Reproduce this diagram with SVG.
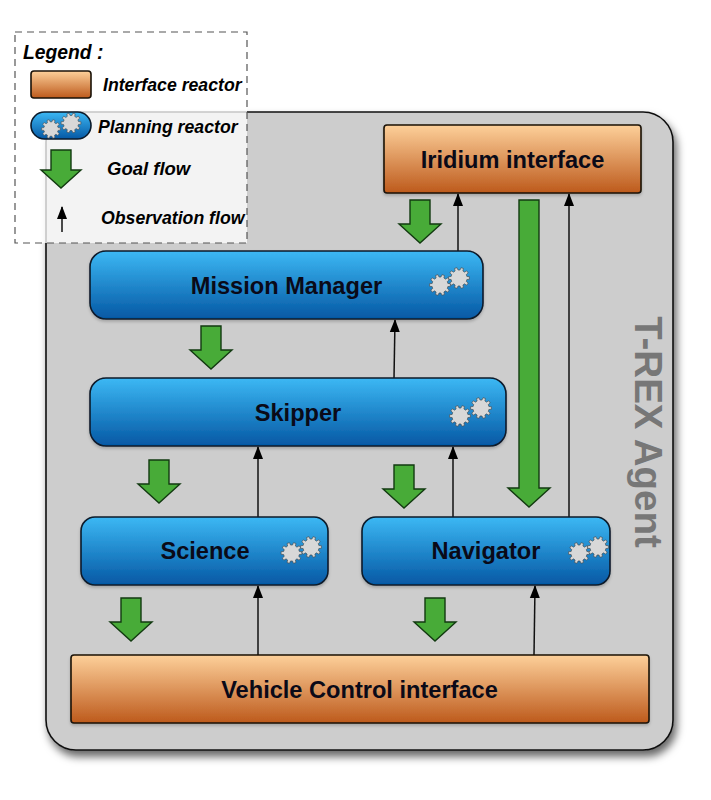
<svg xmlns="http://www.w3.org/2000/svg" xmlns:xlink="http://www.w3.org/1999/xlink" width="711" height="800" viewBox="0 0 711 800">
<style>
text{font-family:"Liberation Sans",Arial,sans-serif;font-weight:bold;fill:#0a0a18;text-anchor:middle}
.label{font-size:23.600px}
.leg{font-size:17.700px;font-style:italic;text-anchor:start;fill:#000}
.plan{fill:url(#blue);stroke:#0b1a2a;stroke-width:1.6}
.iface{fill:url(#orange);stroke:#1a1208;stroke-width:1.6}
.obs{fill:none;stroke:#111;stroke-width:1.5;marker-end:url(#head)}
.goal{fill:#48ab38;stroke:#123a10;stroke-width:1.4}
.gear{fill:#d8d8d8;stroke:#444;stroke-width:.6}
</style>
<defs>
<linearGradient id="blue" x1="0" y1="0" x2="0" y2="1"><stop offset="0" stop-color="#3cb8f4"/><stop offset="1" stop-color="#0558a4"/></linearGradient>
<linearGradient id="orange" x1="0" y1="0" x2="0" y2="1"><stop offset="0" stop-color="#fdd09a"/><stop offset="1" stop-color="#bd5a1c"/></linearGradient>
<filter id="shadow" x="-5%" y="-5%" width="112%" height="112%"><feDropShadow dx="3" dy="6" stdDeviation="4" flood-color="#000" flood-opacity=".6"/></filter>
<filter id="soft" x="-5%" y="-10%" width="110%" height="125%"><feDropShadow dx="0" dy="2" stdDeviation="1.500" flood-color="#000" flood-opacity=".2"/></filter>
<marker id="head" markerUnits="userSpaceOnUse" markerWidth="15" markerHeight="12" refX="12" refY="6" orient="auto"><path d="M0 1L13 6L0 11Z" fill="#000"/></marker>
<path id="down" d="M-10 0H10V24H21L0 43L-21 24H-10Z"/>
<path id="g" d="M7.850-1.530L10.420-1.280L10.420 1.280L7.850 1.530L7.250 3.380L9.180 5.090L7.680 7.160L5.460 5.850L3.880 7L4.440 9.520L2 10.310L.97 7.940L-.97 7.940L-2 10.310L-4.440 9.520L-3.880 7L-5.460 5.850L-7.680 7.160L-9.180 5.090L-7.250 3.380L-7.850 1.530L-10.420 1.280L-10.420-1.280L-7.850-1.530L-7.250-3.380L-9.180-5.090L-7.680-7.160L-5.460-5.850L-3.880-7L-4.440-9.520L-2-10.310L-.97-7.940L.97-7.940L2-10.310L4.440-9.520L3.880-7L5.460-5.850L7.680-7.160L9.180-5.090L7.250-3.380Z"/>
</defs>
<rect width="711" height="800" fill="#fff"/>
<g id="agent">
<rect x="46" y="112" width="627" height="638" rx="30" fill="#cdcdcd" stroke="#111" stroke-width="1.6" filter="url(#shadow)"/>
<text x="648" y="432" font-size="38.500" style="fill:#777" transform="rotate(90 648 432)" dominant-baseline="central">T-REX Agent</text>
</g>
<g id="connectors">
<path class="obs" d="M458 251V194"/>
<path class="obs" d="M569 517V194"/>
<path class="obs" d="M394 378L395 320"/>
<path class="obs" d="M453 517V447"/>
<path class="obs" d="M258 517V447"/>
<path class="obs" d="M258 655V586"/>
<path class="obs" d="M534 655L535 586"/>
<use href="#down" class="goal" x="420" y="200"/>
<use href="#down" class="goal" x="211" y="326"/>
<use href="#down" class="goal" x="159" y="460"/>
<use href="#down" class="goal" x="404" y="465"/>
<use href="#down" class="goal" x="131" y="598"/>
<use href="#down" class="goal" x="435" y="598"/>
<path class="goal" d="M519 200H539V488H550L529 507L508 488H519Z"/>
</g>
<g id="iridium">
<rect class="iface" x="384" y="125" width="257" height="68" rx="3" filter="url(#soft)"/>
<text class="label" x="512.500" y="168">Iridium interface</text>
</g>
<g id="mission-manager">
<rect class="plan" x="90" y="251" width="393" height="68" rx="16" filter="url(#soft)"/>
<text class="label" x="286.500" y="294">Mission Manager</text>
<use href="#g" class="gear" x="440" y="285"/><use href="#g" class="gear" x="459" y="278"/>
</g>
<g id="skipper">
<rect class="plan" x="90" y="378" width="416" height="68" rx="16" filter="url(#soft)"/>
<text class="label" x="298" y="421">Skipper</text>
<use href="#g" class="gear" x="460" y="416"/><use href="#g" class="gear" x="481" y="408"/>
</g>
<g id="science">
<rect class="plan" x="81" y="517" width="247" height="68" rx="14" filter="url(#soft)"/>
<text class="label" x="205" y="559">Science</text>
<use href="#g" class="gear" x="291.500" y="553"/><use href="#g" class="gear" x="311" y="547"/>
</g>
<g id="navigator">
<rect class="plan" x="362" y="517" width="248" height="68" rx="14" filter="url(#soft)"/>
<text class="label" x="486" y="559">Navigator</text>
<use href="#g" class="gear" x="579" y="553"/><use href="#g" class="gear" x="598" y="547"/>
</g>
<g id="vehicle-control">
<rect class="iface" x="71" y="655" width="578" height="68" rx="3" filter="url(#soft)"/>
<text class="label" x="359.500" y="698">Vehicle Control interface</text>
</g>
<g id="legend">
<rect x="15" y="32" width="232" height="211" fill="#fff" fill-opacity=".76" stroke="#555" stroke-width="1.200" stroke-dasharray="7 5"/>
<text class="leg" x="23" y="59" style="font-size:19.300px">Legend :</text>
<rect class="iface" x="31" y="71" width="60" height="27" rx="3"/>
<text class="leg" x="103" y="91">Interface reactor</text>
<rect class="plan" x="31" y="112" width="60" height="27" rx="13.500"/>
<use href="#g" class="gear" transform="translate(51 129) scale(.9)"/>
<use href="#g" class="gear" transform="translate(71 123) scale(.95)"/>
<text class="leg" x="98" y="133">Planning reactor</text>
<path class="goal" d="M51 150H71V170H81L61 188L41 170H51Z"/>
<text class="leg" x="107" y="175" style="font-size:18.500px">Goal flow</text>
<path class="obs" d="M62 232V207"/>
<text class="leg" x="101" y="224">Observation flow</text>
</g>
</svg>
